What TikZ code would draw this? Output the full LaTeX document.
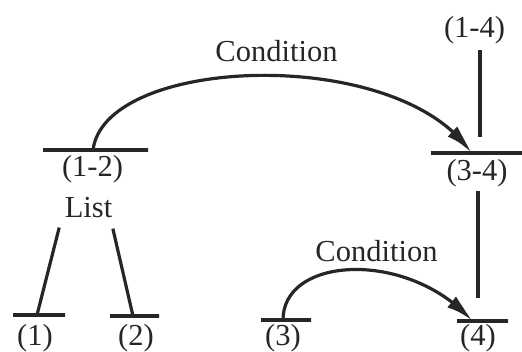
\documentclass[tikz,border=0pt]{standalone}
\usepackage{fontspec}
\setmainfont{Liberation Serif}
\usetikzlibrary{arrows.meta,bending}

\begin{document}
\begin{tikzpicture}[
  x=1pt,y=-1pt,
  bar/.style={draw,rectangle,inner sep=0pt,minimum height=0pt},
  word/.style={inner sep=0pt,text=black!85,font=\fontsize{30.5}{36}\selectfont},
  every path/.style={line width=3.2pt,black!85},
  arc/.style={-{Latex[length=28pt,width=14pt,bend]}}
]
  \useasboundingbox (0,0) rectangle (522,352);

  % bars
  \node[bar,minimum width=105pt] (b12) at (95.5,150) {};
  \node[bar,minimum width=91pt] (b34) at (476.5,153) {};
  \node[bar,minimum width=52pt] (b1) at (39,315) {};
  \node[bar,minimum width=49pt] (b2) at (134.5,316) {};
  \node[bar,minimum width=50pt] (b3) at (286,320) {};
  \node[bar,minimum width=51pt] (b4) at (482.5,321) {};

  % labels
  \node[word] (l12) at (92.5,169) {(1-2)};
  \node[word] (list) at (88.5,208) {List};
  \node[word] (l14) at (474.5,30) {(1-4)};
  \node[word] (l34) at (477,173) {(3-4)};
  \node[word] (l1) at (35,338) {(1)};
  \node[word] (l2) at (136,338) {(2)};
  \node[word] (l3) at (283,338) {(3)};
  \node[word] (l4) at (478,338) {(4)};
  \node[word,anchor=base] (cond1) at (276.5,62) {Condition};
  \node[word,anchor=base] (cond2) at (376.5,262) {Condition};

  \draw[arc] ([xshift=-2.5pt]b12.center) .. controls (105,55) and (400,45) .. ([xshift=-5.5pt]b34.center);
  \draw[arc] ([xshift=-3pt]b3.center) .. controls (283,255) and (410,250) .. ([xshift=-10.5pt]b4.center);

  \draw[shorten <=5pt,shorten >=16pt] ([xshift=5.5pt]l14.south) -- ([xshift=5.5pt]l14.south |- b34.center);
  \draw[shorten <=3pt,shorten >=23pt] ([xshift=1pt]l34.south) -- ([xshift=1pt]l34.south |- b4.center);

  \draw[shorten <=8pt] ([xshift=-2pt]list.south west) -- ([xshift=-2pt]b1.center);
  \draw[shorten <=9pt] ([xshift=-3pt]list.south east) -- ([xshift=-1.5pt]b2.center);
\end{tikzpicture}
\end{document}
